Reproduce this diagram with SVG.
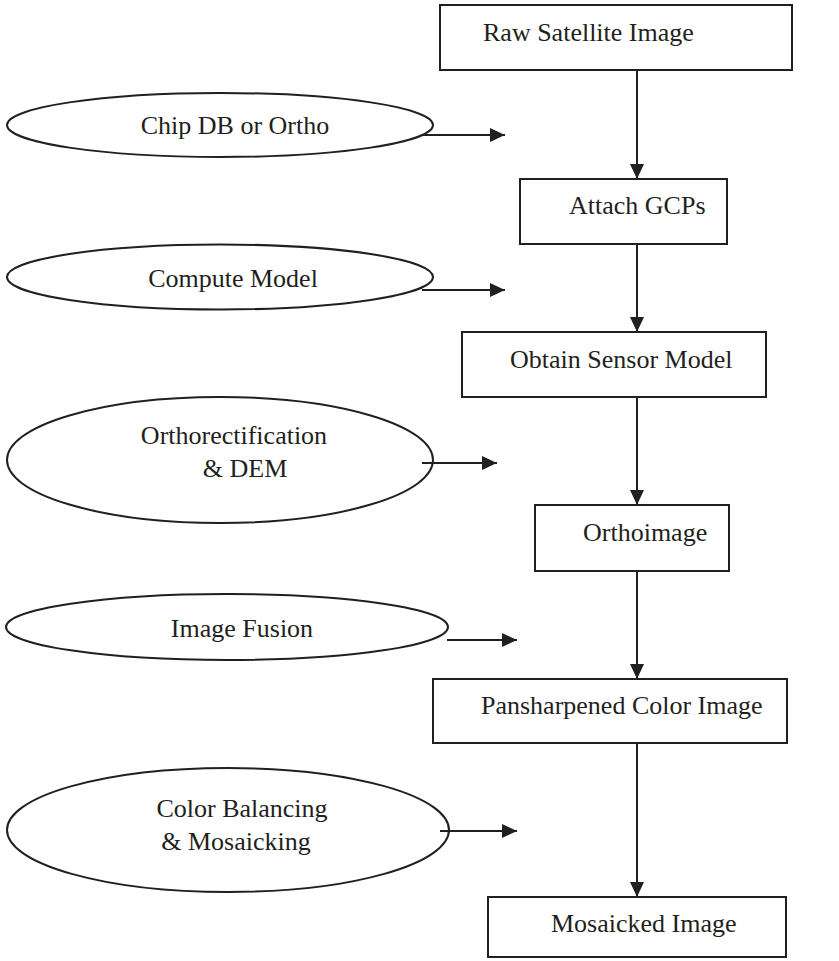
<svg xmlns="http://www.w3.org/2000/svg" width="839" height="961" viewBox="0 0 839 961">
<style>
.box{fill:#fff;stroke:#231f20;stroke-width:2}
.ell{fill:none;stroke:#231f20;stroke-width:2}
.t{font-family:"Liberation Serif","Times New Roman",serif;font-size:26px;fill:#231f20}
.c{text-anchor:middle}
.ln{stroke:#231f20;stroke-width:2;fill:none}
</style>
<defs>
<marker id="ah" viewBox="0 0 15 14" refX="15" refY="7" markerWidth="15" markerHeight="14" markerUnits="userSpaceOnUse" orient="auto">
<path d="M0,0 L15,7 L0,14 Z" fill="#231f20"/>
</marker>
</defs>
<rect width="839" height="961" fill="#fff"/>
<g id="connectors">
<line class="ln" x1="637" y1="70" x2="637" y2="179" marker-end="url(#ah)"/>
<line class="ln" x1="637" y1="244" x2="637" y2="332" marker-end="url(#ah)"/>
<line class="ln" x1="637" y1="397" x2="637" y2="505" marker-end="url(#ah)"/>
<line class="ln" x1="637" y1="571" x2="637" y2="679" marker-end="url(#ah)"/>
<line class="ln" x1="637" y1="743" x2="637" y2="897" marker-end="url(#ah)"/>
<line class="ln" x1="422" y1="135" x2="505" y2="135" marker-end="url(#ah)"/>
<line class="ln" x1="422" y1="290" x2="505" y2="290" marker-end="url(#ah)"/>
<line class="ln" x1="422" y1="463" x2="497" y2="463" marker-end="url(#ah)"/>
<line class="ln" x1="447" y1="640" x2="517" y2="640" marker-end="url(#ah)"/>
<line class="ln" x1="440" y1="831" x2="517" y2="831" marker-end="url(#ah)"/>
</g>
<g id="raw">
<rect class="box" x="440" y="5" width="352" height="65"/>
<text class="t" x="483" y="41">Raw Satellite Image</text>
</g>
<g id="chip">
<ellipse class="ell" cx="220" cy="125" rx="213" ry="32"/>
<text class="t c" x="235" y="134">Chip DB or Ortho</text>
</g>
<g id="gcps">
<rect class="box" x="520" y="179" width="207" height="65"/>
<text class="t" x="569" y="214">Attach GCPs</text>
</g>
<g id="compute">
<ellipse class="ell" cx="220" cy="277" rx="213" ry="32.5"/>
<text class="t c" x="233" y="287">Compute Model</text>
</g>
<g id="sensor">
<rect class="box" x="462" y="332" width="304" height="65"/>
<text class="t" x="510" y="368">Obtain Sensor Model</text>
</g>
<g id="ortho">
<ellipse class="ell" cx="220" cy="460" rx="213" ry="63"/>
<text class="t c" x="234" y="444">Orthorectification</text>
<text class="t c" x="245" y="477">&amp; DEM</text>
</g>
<g id="orthoimage">
<rect class="box" x="535" y="505" width="194" height="66"/>
<text class="t" x="583" y="541">Orthoimage</text>
</g>
<g id="fusion">
<ellipse class="ell" cx="227" cy="627" rx="221" ry="33"/>
<text class="t c" x="242" y="637">Image Fusion</text>
</g>
<g id="pansharp">
<rect class="box" x="433" y="679" width="354" height="64"/>
<text class="t" x="481" y="714">Pansharpened Color Image</text>
</g>
<g id="balance">
<ellipse class="ell" cx="228" cy="830" rx="221" ry="62"/>
<text class="t c" x="242" y="817">Color Balancing</text>
<text class="t c" x="236" y="850">&amp; Mosaicking</text>
</g>
<g id="mosaic">
<rect class="box" x="488" y="897" width="298" height="60"/>
<text class="t" x="551" y="932">Mosaicked Image</text>
</g>
</svg>
